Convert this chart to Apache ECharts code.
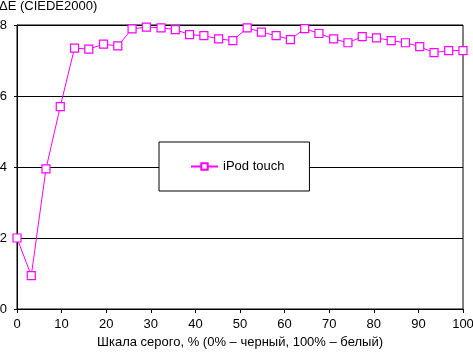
<!DOCTYPE html>
<html>
<head>
<meta charset="utf-8">
<script src="https://cdn.jsdelivr.net/npm/echarts@6/dist/echarts.min.js"></script>
<style>
  html, body { margin: 0; padding: 0; background: #fff; }
  #chart { width: 473px; height: 352px; }
</style>
</head>
<body>
<div id="chart"></div>
<script>
// шкала серого, %
const grayLevels = [0, 3.2, 6.5, 9.7, 12.9, 16.1, 19.4, 22.6, 25.8, 29.0, 32.3, 35.5, 38.7, 41.9, 45.2, 48.4,
  51.6, 54.8, 58.1, 61.3, 64.5, 67.7, 71.0, 74.2, 77.4, 80.6, 83.9, 87.1, 90.3, 93.5, 96.8, 100];
// ΔE для iPod touch
const deltaE = [2.0, 0.94, 3.95, 5.70, 7.35, 7.32, 7.46, 7.41, 7.89, 7.94, 7.92, 7.87, 7.73, 7.70, 7.61, 7.56,
  7.92, 7.80, 7.70, 7.59, 7.90, 7.76, 7.61, 7.50, 7.67, 7.64, 7.56, 7.50, 7.39, 7.22, 7.28, 7.28];
const seriesName = "iPod touch";

const font = "'Liberation Sans', Arial, sans-serif";
const chart = echarts.init(document.getElementById("chart"));

chart.setOption({
  animation: false,
  backgroundColor: "#fff",
  textStyle: { fontFamily: font },
  title: {
    text: "ΔE (CIEDE2000)",
    left: -1,
    top: 0,
    padding: 0,
    textStyle: { fontSize: 13, fontWeight: "normal", color: "#000", fontFamily: font },
  },
  grid: {
    left: 17,
    right: 10,
    top: 25,
    bottom: 43,
    outerBoundsMode: "none",
    containLabel: false,
    show: true,
    borderColor: "#000",
    borderWidth: 1,
    backgroundColor: "transparent",
  },
  legend: {
    left: 159,
    top: 142,
    padding: [18, 25, 18, 31],
    backgroundColor: "#fff",
    borderColor: "#000",
    borderWidth: 1,
    itemWidth: 27,
    itemHeight: 8,
    itemGap: 5,
    textStyle: { fontSize: 13, color: "#000", fontFamily: font },
    data: [seriesName],
  },
  xAxis: {
    type: "value",
    min: 0,
    max: 100,
    interval: 10,
    name: "Шкала серого, % (0% – черный, 100% – белый)",
    nameLocation: "middle",
    nameGap: 27,
    nameTextStyle: { fontSize: 13, color: "#000", fontFamily: font },
    axisLine: { lineStyle: { color: "#000", width: 1 } },
    axisTick: { show: true, length: 4, lineStyle: { color: "#000" } },
    axisLabel: { fontSize: 13, color: "#000", margin: 9, fontFamily: font },
    splitLine: { show: false },
  },
  yAxis: {
    type: "value",
    min: 0,
    max: 8,
    interval: 2,
    axisLine: { show: true, lineStyle: { color: "#000", width: 1 } },
    axisTick: { show: true, length: 3, lineStyle: { color: "#000" } },
    axisLabel: { fontSize: 13, color: "#000", margin: 10, fontFamily: font },
    splitLine: { show: true, lineStyle: { color: "#000", width: 1 } },
  },
  series: [
    {
      name: seriesName,
      type: "line",
      data: grayLevels.map((x, i) => [x, deltaE[i]]),
      symbol: "rect",
      symbolSize: 8,
      lineStyle: { color: "#ff00ff", width: 1 },
      itemStyle: { color: "#fff", borderColor: "#ff00ff", borderWidth: 1.2 },
      z: 3,
    },
  ],
});
</script>
</body>
</html>
